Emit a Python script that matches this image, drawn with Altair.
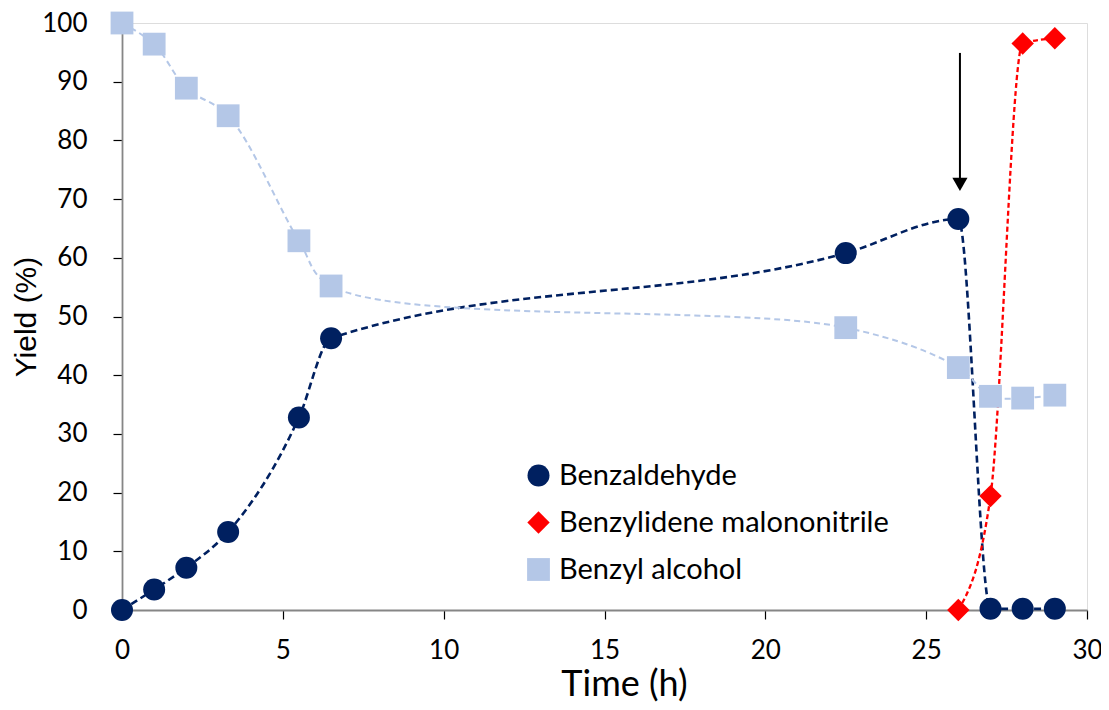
import altair as alt
import pandas as pd

# ---- data ----
series_names = ["Benzaldehyde", "Benzylidene malononitrile", "Benzyl alcohol"]

t_benzaldehyde = [0, 1, 2, 3.3, 5.5, 6.5, 22.5, 26, 27, 28, 29]
y_benzaldehyde = [0, 3.5, 7.2, 13.3, 32.8, 46.3, 60.8, 66.6, 0.2, 0.2, 0.2]

t_malono = [26, 27, 28, 29]
y_malono = [0, 19.4, 96.5, 97.4]

t_alcohol = [0, 1, 2, 3.3, 5.5, 6.5, 22.5, 26, 27, 28, 29]
y_alcohol = [100, 96.4, 88.9, 84.2, 62.9, 55.2, 48.1, 41.3, 36.4, 36.1, 36.6]

arrow_t = [26.05, 26.05]
arrow_y = [94.9, 72.5]

x_ticks = [0, 5, 10, 15, 20, 25, 30]
y_ticks = [0, 10, 20, 30, 40, 50, 60, 70, 80, 90, 100]

colors = ["#002060", "#ff0000", "#b4c7e7"]
shapes = ["circle", "diamond", "square"]

rows = []
for name, ts, ys in [
    (series_names[0], t_benzaldehyde, y_benzaldehyde),
    (series_names[1], t_malono, y_malono),
    (series_names[2], t_alcohol, y_alcohol),
]:
    for i, (t, y) in enumerate(zip(ts, ys)):
        rows.append({"series": name, "t": t, "y": y, "order": i})
df = pd.DataFrame(rows)

arrow_df = pd.DataFrame({"t": arrow_t, "y": arrow_y})
arrow_start = arrow_df.iloc[[0]].assign(t2=arrow_t[1], y2=arrow_y[1])
arrow_head = arrow_df.iloc[[1]]

x_scale = alt.Scale(domain=[0, 30], nice=False, zero=False)
y_scale = alt.Scale(domain=[0, 100], nice=False)

x_enc = alt.X("t:Q", scale=x_scale, axis=alt.Axis(
    title="Time (h)", values=x_ticks, format="d", grid=False,
    titleFont="Lato", titleFontSize=36, titleFontWeight="normal", titleColor="#000",
    titleX=502, titleY=85, titleAlign="center", titleBaseline="alphabetic",
    labelFont="Lato", labelFontSize=26, labelColor="#000", labelPadding=18,
    tickSize=9, tickColor="#000", tickWidth=1.2,
    domainColor="#868686", domainWidth=1.8, labelFlush=False))
y_enc = alt.Y("y:Q", scale=y_scale, axis=alt.Axis(
    title="Yield (%)", values=y_ticks, format="d", grid=False,
    titleFont="Liberation Sans", titleFontSize=30, titleFontWeight="normal", titleColor="#000",
    titlePadding=0,
    labelFont="Lato", labelFontSize=26, labelColor="#000", labelPadding=26,
    tickSize=9, tickColor="#000", tickWidth=1.2,
    domainColor="#868686", domainWidth=1.8, labelFlush=False))

color_nolegend = alt.Color("series:N", scale=alt.Scale(domain=series_names, range=colors), legend=None)
width_enc = alt.StrokeWidth("series:N", scale=alt.Scale(domain=series_names, range=[2.6, 2.0, 1.6]), legend=None)
dash_enc = alt.StrokeDash("series:N", scale=alt.Scale(domain=series_names, range=[[7, 4], [5, 3], [6, 4]]), legend=None)

lines_main = alt.Chart(df).transform_filter(
    alt.datum.series != series_names[2]
).mark_line(interpolate="monotone").encode(
    x=x_enc, y=y_enc, color=color_nolegend, strokeWidth=width_enc, strokeDash=dash_enc,
    order="order:Q",
)
lines_alcohol = alt.Chart(df).transform_filter(
    alt.datum.series == series_names[2]
).mark_line(interpolate="catmull-rom").encode(
    x="t:Q", y="y:Q", color=color_nolegend, strokeWidth=width_enc, strokeDash=dash_enc,
    order="order:Q",
)

legend = alt.Legend(title=None, orient="none", legendX=402, legendY=438,
                    labelFont="Lato", labelFontSize=29, labelColor="#000", labelLimit=0,
                    symbolSize=225, rowPadding=17, labelOffset=6,
                    symbolStrokeWidth=0)

points = alt.Chart(df).mark_point(filled=True, opacity=1).encode(
    x="t:Q", y="y:Q",
    color=alt.Color("series:N", scale=alt.Scale(domain=series_names, range=colors), legend=legend),
    shape=alt.Shape("series:N", scale=alt.Scale(domain=series_names, range=shapes), legend=legend),
    size=alt.Size("series:N", scale=alt.Scale(domain=series_names, range=[484, 520, 240]), legend=None),
)

arrow_line = alt.Chart(arrow_start).mark_rule(color="#000", strokeWidth=2).encode(
    x="t:Q", y="y:Q", x2="t2:Q", y2="y2:Q")
arrow_tip = alt.Chart(arrow_head).mark_point(shape="triangle-down", filled=True, color="#000",
                                             size=230, opacity=1).encode(x="t:Q", y="y:Q")

chart = alt.layer(lines_main, lines_alcohol, arrow_line, arrow_tip, points).resolve_scale(
    color="independent", shape="independent", strokeWidth="independent",
    strokeDash="independent", size="independent"
).properties(
    width=965, height=587,
    autosize=alt.AutoSizeParams(type="none"),
    padding={"left": 114, "top": 15, "right": 14, "bottom": 92},
).configure_view(stroke=None).configure(background="white")

chart.save("out.html", embed_options={"renderer": "svg", "actions": False})
